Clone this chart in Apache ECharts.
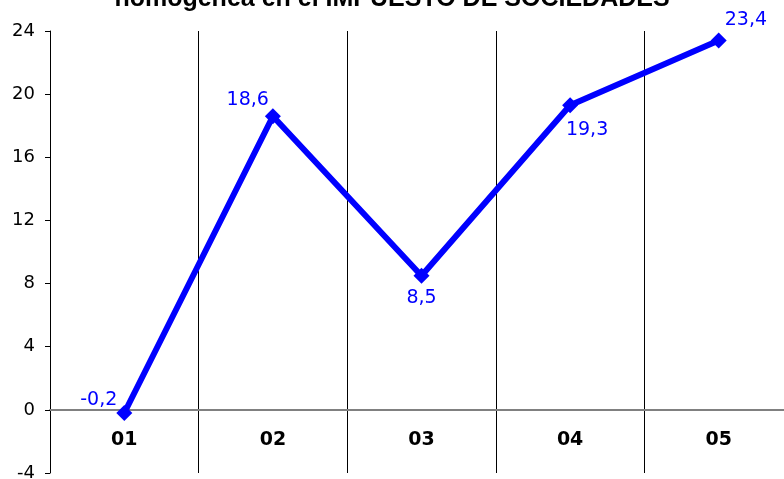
<!DOCTYPE html>
<html>
<head>
<meta charset="utf-8">
<script src="https://cdn.jsdelivr.net/npm/echarts@6/dist/echarts.min.js"></script>
<style>
  html, body { margin: 0; padding: 0; background: #fff; }
  #chart { width: 784px; height: 479px; }
</style>
</head>
<body>
<div id="chart"></div>
<script>
// datos
var categorias = ['01', '02', '03', '04', '05'];
var valores = [-0.2, 18.6, 8.5, 19.3, 23.4];

var myChart = echarts.init(document.getElementById('chart'));
var fuente = 'DejaVu Sans';

// posición de cada etiqueta
var etiquetas = [
  { position: 'left', offset: [6, -13] },
  { position: 'left', offset: [9, -16] },
  { position: 'bottom', offset: [0, 0] },
  { position: 'bottom', offset: [17, 2] },
  { position: 'right', offset: [-7, -20] }
];

var datos = valores.map(function (v, i) {
  return { value: v, label: etiquetas[i] };
});

var option = {
  title: {
    text: 'homogénea en el IMPUESTO DE SOCIEDADES',
    left: 'center',
    top: -18,
    textStyle: { fontFamily: 'Liberation Sans', fontWeight: 'bold', fontSize: 25, color: '#000' }
  },
  grid: { left: 50, width: 743, top: 31, bottom: 6, containLabel: false, outerBoundsMode: 'none' },
  xAxis: {
    type: 'category',
    data: categorias,
    boundaryGap: true,
    axisLine: { onZero: true, lineStyle: { color: '#808080', width: 2 } },
    axisTick: { show: false },
    // las etiquetas se colocan respecto al borde inferior
    axisLabel: { margin: -42, fontFamily: fuente, fontWeight: 'bold', fontSize: 19, color: '#000' },
    splitLine: { show: true, lineStyle: { color: '#000', width: 1 } }
  },
  yAxis: {
    type: 'value',
    min: -4,
    max: 24,
    interval: 4,
    axisLine: { show: true, lineStyle: { color: '#000', width: 1 } },
    axisTick: { show: true, length: 5, lineStyle: { color: '#000' } },
    axisLabel: { margin: 15, fontFamily: fuente, fontSize: 18, color: '#000' },
    splitLine: { show: false }
  },
  series: [
    {
      type: 'line',
      data: datos,
      symbol: 'diamond',
      symbolSize: 16,
      lineStyle: { color: '#0000ff', width: 6 },
      itemStyle: { color: '#0000ff' },
      label: {
        show: true,
        fontFamily: fuente,
        fontSize: 19,
        color: '#0000ff',
        formatter: function (p) { return String(p.value).replace('.', ','); }
      }
    }
  ]
};
myChart.setOption(option);
</script>
</body>
</html>
